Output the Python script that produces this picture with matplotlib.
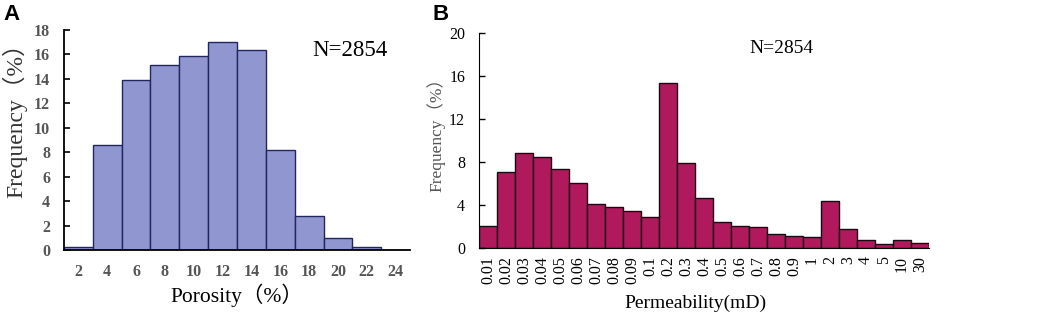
import numpy as np
import matplotlib
matplotlib.use('Agg')
import matplotlib.pyplot as plt

# Porosity histogram (panel A)
poro_labels = ['2', '4', '6', '8', '10', '12', '14', '16', '18', '20', '22', '24']
poro_freq = [0.25, 8.6, 13.9, 15.1, 15.9, 17.05, 16.4, 8.2, 2.75, 0.95, 0.28, 0.0]

# Permeability histogram (panel B)
perm_labels = ['0.01', '0.02', '0.03', '0.04', '0.05', '0.06', '0.07', '0.08', '0.09', '0.1',
               '0.2', '0.3', '0.4', '0.5', '0.6', '0.7', '0.8', '0.9', '1', '2',
               '3', '4', '5', '10', '30']
perm_freq = [2.0, 7.05, 8.85, 8.45, 7.35, 6.05, 4.1, 3.78, 3.4, 2.88,
             15.35, 7.95, 4.62, 2.42, 2.08, 1.92, 1.33, 1.08, 1.0, 4.4,
             1.74, 0.78, 0.37, 0.78, 0.43]

serif = ['Liberation Serif', 'Noto Sans CJK SC']

fig = plt.figure(figsize=(10.52, 3.17), dpi=100)

# ---- Panel A ----
ax1 = fig.add_axes([0.0608, 0.2114, 0.329, 0.694])
x1 = np.arange(len(poro_labels))
ax1.bar(x1, poro_freq, width=1.0, color='#9097d0', edgecolor='#22265e', linewidth=1.0)
ax1.set_xlim(-0.5, len(poro_labels) - 0.5)
ax1.set_ylim(0, 18)
ax1.set_yticks(np.arange(0, 19, 2))
ax1.set_xticks(x1, poro_labels)
for s in ['top', 'right']:
    ax1.spines[s].set_visible(False)
ax1.spines['left'].set_linewidth(1.3)
ax1.spines['bottom'].set_linewidth(1.3)
ax1.tick_params(axis='y', direction='in', length=4, width=1.2, pad=10)
ax1.tick_params(axis='x', length=0, pad=10)
for lab in ax1.get_xticklabels() + ax1.get_yticklabels():
    lab.set_family(serif)
    lab.set_fontsize(11.5)
    lab.set_color('#555555')
    lab.set_fontweight('bold')
ax1.set_xlabel('Porosity（%）', family=serif, fontsize=15.5, labelpad=3)
ax1.set_ylabel('Frequency（%）', family=serif, fontsize=17, color='#333333')
ax1.yaxis.set_label_coords(-0.105, 0.615)
ax1.text(0.826, 0.909, 'N=2854', transform=ax1.transAxes, family=serif, fontsize=16.5,
         ha='center', va='center')
fig.text(0.003, 0.955, 'A', family='Liberation Sans', fontsize=16, fontweight='bold',
         va='center')

# ---- Panel B ----
ax2 = fig.add_axes([0.4553, 0.2177, 0.4278, 0.6782])
x2 = np.arange(len(perm_labels))
ax2.bar(x2, perm_freq, width=1.0, color='#b01a5c', edgecolor='#1a0a10', linewidth=1.0)
ax2.set_xlim(-0.5, len(perm_labels) - 0.5)
ax2.set_ylim(0, 20)
ax2.set_yticks(np.arange(0, 21, 4))
ax2.set_xticks(x2, perm_labels, rotation=90)
for s in ['top', 'right']:
    ax2.spines[s].set_visible(False)
ax2.tick_params(axis='y', direction='in', length=4, width=1.0, pad=10)
ax2.tick_params(axis='x', length=0, pad=6)
for lab in ax2.get_xticklabels() + ax2.get_yticklabels():
    lab.set_family(serif)
    lab.set_fontsize(11.5)
ax2.set_xlabel('Permeability(mD)', family=serif, fontsize=14)
ax2.xaxis.set_label_coords(0.48, -0.215)
ax2.set_ylabel('Frequency（%）', family=serif, fontsize=12.5, color='#555555')
ax2.yaxis.set_label_coords(-0.075, 0.544)
ax2.text(0.671, 0.93, 'N=2854', transform=ax2.transAxes, family=serif, fontsize=14,
         ha='center', va='center')
fig.text(0.411, 0.955, 'B', family='Liberation Sans', fontsize=16, fontweight='bold',
         va='center')

fig.savefig('out.png', dpi=100)
